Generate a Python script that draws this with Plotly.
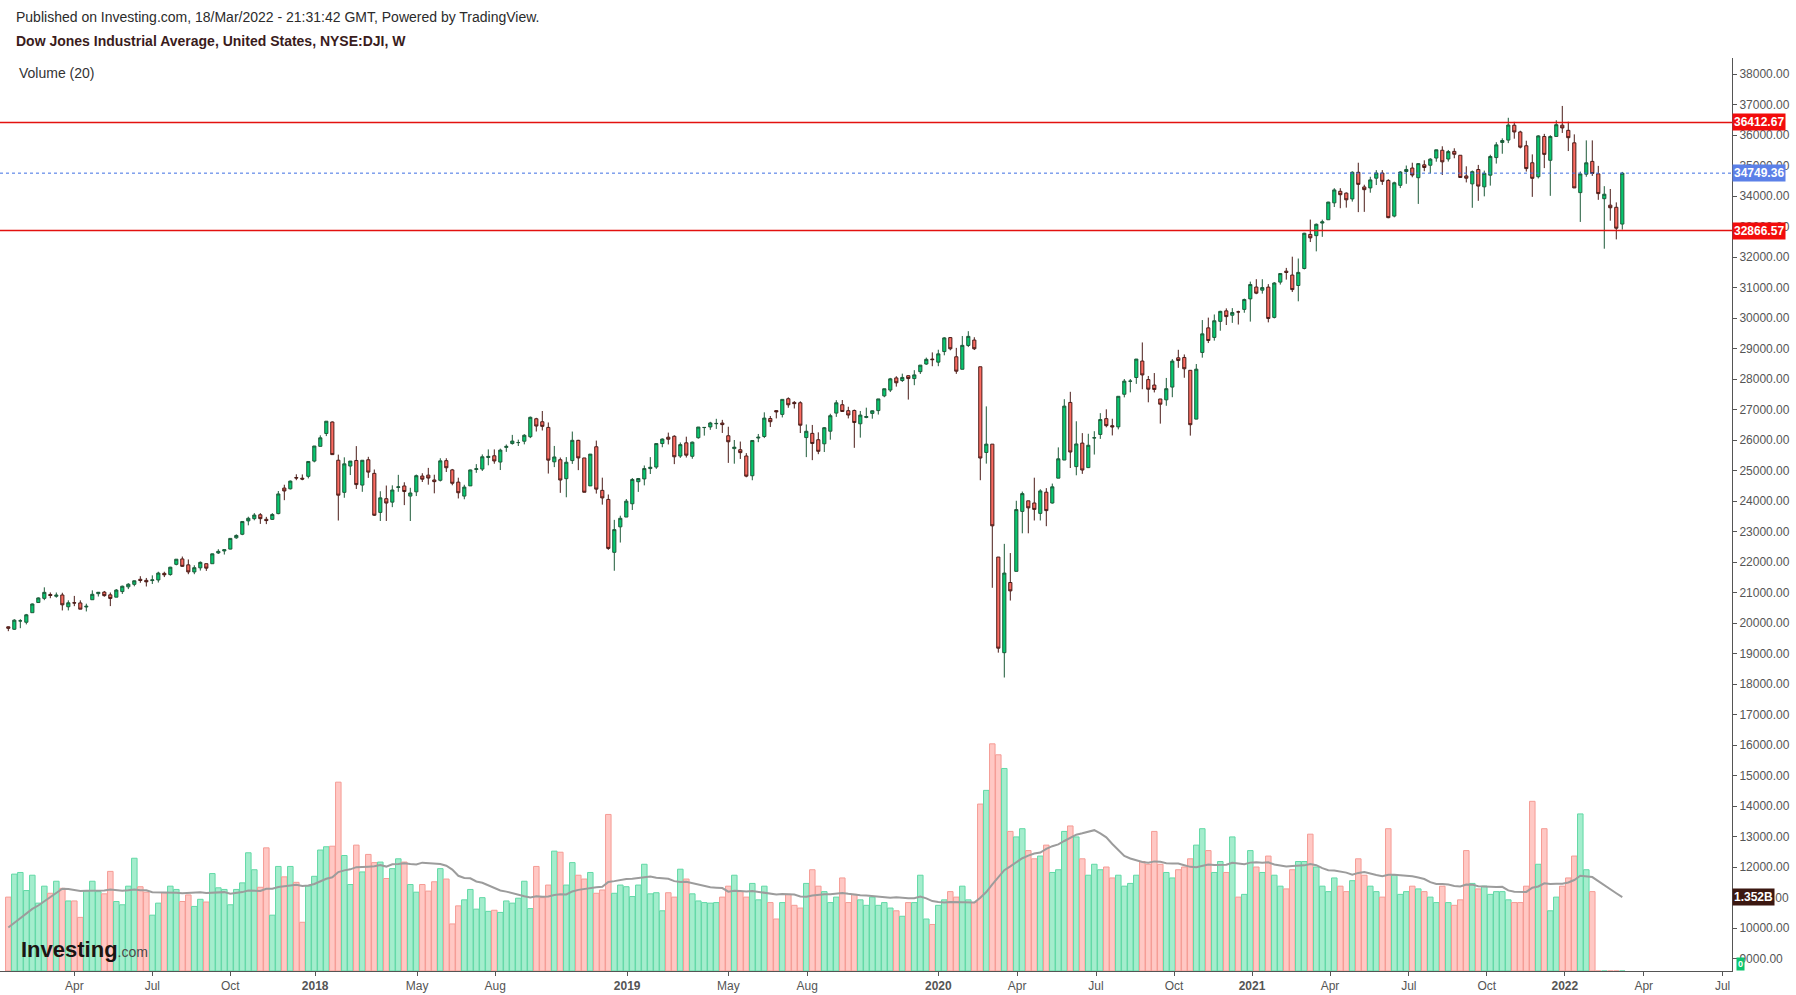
import plotly.graph_objects as go
import pandas as pd

# Weekly bars, Monday of each week
weeks = pd.date_range("2017-01-16", periods=270, freq="7D")

opens = [
    # 2017
    19875, 19794, 20067, 20025, 20338, 20671, 20808, 20935, 20876, 20919, 20532, 20665, 20658, 20525, 20763, 20962,
    21013, 20923, 20847, 21030, 21186, 21268, 21433, 21399, 21392, 21412, 21628, 21588, 21923, 22100, 21906, 21674,
    21809, 21945, 21944, 22296, 22362, 22423, 22793, 22909, 23348, 23421, 23549, 23400, 23398, 23587, 24424, 24400,
    24770, 24747,
    # 2018
    24809, 25309, 25792, 26214, 26591, 25337, 24283, 25146, 25329, 24522, 25353, 24906, 23626, 24076, 23963, 24446,
    24493, 24161, 24301, 24818, 24848, 24690, 24679, 25323, 25020, 24619, 24161, 24496, 25034, 25047, 25426, 25483,
    25277, 25758, 25884, 25916, 25960, 26108, 26697, 26599, 26413, 25285, 25354, 24732, 25325, 25989, 25412, 24496,
    25779, 24349, 24052, 22317, 23153,
    # 2019
    23474, 23910, 24632, 24724, 25064, 25113, 25884, 26092, 26122, 25474, 25907, 25465, 26075, 26407, 26428, 26534,
    26556, 26140, 25718, 25681, 25476, 24827, 26065, 26115, 26704, 26964, 26840, 27354, 27232, 27221, 26080, 26218,
    26009, 25876, 26289, 26882, 27157, 26961, 26968, 26532, 26740, 26872, 26964, 27447, 27638, 28036, 27950, 28109,
    28014, 28241, 28491, 28654,
    # 2020
    28553, 28900, 29358, 28729, 28319, 29100, 29277, 28402, 25591, 25864, 22162, 19027, 21328, 21693, 23659, 24006,
    23935, 23594, 24289, 23934, 24749, 25343, 27232, 25128, 25899, 25095, 26065, 26182, 26701, 26470, 26430, 27500,
    27926, 28049, 28589, 27981, 27802, 27345, 27317, 27735, 28695, 28706, 28285, 26685, 28870, 29677, 29364, 29890,
    30234, 30091, 30201, 30283,
    # 2021
    30627, 31016, 30913, 31013, 30020, 31177, 31536, 31408, 31066, 31623, 32741, 32700, 33113, 33222, 33776, 34155,
    34094, 33904, 34777, 34296, 34265, 34584, 34754, 34511, 33342, 34350, 34804, 34917, 34600, 35022, 35009, 35245,
    35500, 35213, 35463, 35336, 34658, 34398, 34869, 34301, 34683, 35260, 35755, 35833, 36321, 36100, 35648, 35090,
    34632, 35951, 35171, 35953,
    # 2022
    36322, 36153, 35744, 34111, 34716, 35135, 34727, 33912, 33700, 33630, 33080,
]
highs = [
    19887, 20125, 20125, 20298, 20639, 20841, 21169, 21002, 21000, 20992, 20743, 20888, 20743, 20633, 21071, 21017,
    21050, 21000, 21112, 21225, 21305, 21391, 21535, 21477, 21562, 21681, 21681, 21843, 22092, 22179, 22084, 21893,
    22019, 21945, 22275, 22419, 22405, 22780, 22906, 23329, 23485, 23602, 23602, 23480, 23602, 24328, 24534, 24672,
    24876, 24871,
    25299, 25804, 26153, 26617, 26609, 25520, 25432, 25311, 25800, 25336, 25449, 25033, 24320, 24507, 24514, 24858,
    24614, 24433, 24867, 24911, 25086, 24862, 25402, 25402, 25051, 24764, 24532, 25027, 25209, 25527, 25692, 25692,
    25717, 25853, 26168, 26012, 26192, 26769, 26728, 26951, 26575, 25805, 25425, 25439, 26277, 26006, 25412, 25538,
    25981, 24765, 24213, 23382, 23518,
    24065, 24754, 24755, 25165, 25439, 25883, 26052, 26242, 26156, 25919, 26109, 25949, 26425, 26424, 26596, 26695,
    26661, 26435, 26000, 25949, 25570, 25984, 26198, 26907, 26787, 26966, 27333, 27399, 27277, 27269, 26509, 26494,
    26252, 26426, 26860, 27306, 27311, 27090, 26998, 26952, 27060, 26970, 27347, 27681, 28036, 28091, 28175, 28116,
    28290, 28455, 28702, 28873,
    28960, 29374, 29374, 29021, 29409, 29568, 29370, 28402, 27102, 25864, 22162, 22595, 22293, 24008, 24309, 24006,
    24764, 24386, 24422, 24571, 25758, 27338, 27580, 26614, 26226, 26204, 26288, 26880, 27006, 26698, 27433, 28000,
    28000, 28654, 29199, 28100, 28195, 27345, 28035, 28652, 28958, 28805, 28285, 28491, 29933, 30013, 30116, 30238,
    30316, 30325, 30240, 30637,
    31193, 31272, 31272, 31111, 31178, 31470, 31643, 32010, 31950, 32793, 33227, 33098, 33225, 33810, 34256, 34256,
    34118, 34811, 35091, 34370, 34631, 34849, 34849, 34550, 34470, 34814, 35000, 35091, 35079, 35171, 35241, 35516,
    35631, 35510, 35565, 35336, 34974, 34836, 35020, 34833, 35353, 35765, 35892, 36565, 36432, 36140, 35813, 35365,
    35993, 36037, 35993, 36483,
    36953, 36436, 36021, 34800, 35824, 35824, 34988, 34323, 34230, 33791, 34790,
]
lows = [
    19732, 19771, 19830, 19954, 20338, 20671, 20749, 20813, 20830, 20412, 20413, 20552, 20453, 20379, 20763, 20868,
    20862, 20554, 20847, 20953, 21112, 21203, 21319, 21197, 21279, 21327, 21506, 21552, 21891, 21843, 21600, 21600,
    21719, 21709, 21944, 22262, 22244, 22416, 22761, 22880, 23202, 23367, 23250, 23242, 23377, 23565, 24027, 24379,
    24682, 24681,
    24741, 25268, 25792, 26128, 25516, 23360, 24106, 24852, 24395, 24301, 24758, 23509, 23344, 23345, 23798, 24301,
    23865, 23344, 24162, 24623, 24536, 24252, 24640, 24951, 24516, 24084, 24057, 24496, 24924, 24984, 25170, 25222,
    25016, 25611, 25848, 25803, 25857, 26062, 26279, 26312, 24900, 25111, 24268, 24122, 25216, 25011, 24285, 24496,
    24243, 23881, 22397, 21713, 22638,
    23474, 23706, 24298, 24513, 24885, 25053, 25762, 25855, 25209, 25413, 25425, 25385, 26043, 26143, 26333, 26363,
    26231, 25250, 25223, 25379, 24777, 24680, 25929, 26063, 26427, 26708, 26740, 27057, 27033, 26229, 25439, 25339,
    25535, 25606, 26010, 26758, 26973, 26708, 25743, 26078, 26714, 26699, 26835, 27403, 27573, 27750, 27903, 27325,
    27797, 28165, 28465, 28419,
    28420, 28777, 28941, 28169, 28319, 29047, 28950, 24681, 25226, 21154, 19028, 18213, 20736, 21693, 22941, 22941,
    23361, 23361, 23174, 23915, 24749, 25342, 25082, 24843, 24890, 25080, 25523, 26037, 26416, 26150, 26348, 27398,
    27563, 27841, 27665, 27236, 27560, 26537, 27122, 27403, 28366, 28041, 26143, 26681, 28700, 29179, 29258, 29583,
    29770, 29841, 29786, 30172,
    29882, 30781, 30800, 29857, 29986, 31096, 31259, 30853, 30547, 31593, 32491, 32185, 32661, 33222, 33639, 33600,
    33619, 33816, 33471, 33480, 34108, 34360, 34365, 33271, 33301, 34260, 34400, 34615, 33741, 34812, 34745, 35124,
    34690, 35130, 35237, 34600, 34446, 33613, 33842, 33989, 34340, 35063, 35386, 35734, 35879, 35561, 34801, 33972,
    34576, 34915, 34006, 35953,
    36068, 35474, 34266, 33150, 34631, 34659, 33875, 32272, 33190, 32578, 32900,
]
closes = [
    19827, 20093, 20071, 20269, 20624, 20822, 21005, 20902, 20914, 20596, 20663, 20656, 20453, 20548, 20941, 21007,
    20897, 20805, 21080, 21206, 21272, 21384, 21395, 21350, 21414, 21638, 21580, 21830, 22092, 21858, 21675, 21814,
    21988, 21798, 22268, 22350, 22405, 22774, 22871, 23329, 23434, 23539, 23422, 23358, 23558, 24232, 24329, 24652,
    24754, 24719,
    25296, 25803, 26072, 26617, 25521, 24191, 25219, 25310, 24538, 25336, 24947, 23533, 24103, 23933, 24361, 24463,
    24311, 24263, 24831, 24715, 24753, 24635, 25317, 25090, 24581, 24271, 24456, 25019, 25058, 25451, 25463, 25313,
    25669, 25790, 25965, 25917, 26155, 26744, 26458, 26447, 25340, 25444, 24688, 25271, 25989, 25413, 24286, 25538,
    24389, 24101, 22445, 23062, 23433,
    23996, 24706, 24737, 25064, 25106, 25883, 26031, 26026, 25450, 25849, 25502, 25929, 26425, 26412, 26559, 26543,
    26505, 25942, 25764, 25586, 24815, 25984, 26090, 26719, 26600, 26922, 27332, 27154, 27192, 26485, 26287, 25886,
    25629, 26403, 26797, 27220, 26935, 26820, 26573, 26817, 26770, 26958, 27347, 27681, 28005, 27876, 28051, 28015,
    28135, 28455, 28645, 28635,
    28824, 29348, 28990, 28256, 29103, 29398, 28992, 25409, 25865, 23186, 19174, 21637, 21053, 23719, 24242, 23775,
    23724, 24331, 23685, 24465, 25383, 27111, 25606, 25871, 25016, 25827, 26075, 26672, 26470, 26428, 27433, 27931,
    27930, 28654, 28133, 27666, 27657, 27174, 27683, 28587, 28606, 28336, 26502, 28323, 29480, 29263, 29910, 30218,
    30046, 30179, 30200, 30606,
    31098, 30814, 30997, 29983, 31148, 31458, 31494, 30932, 31496, 32779, 32628, 33073, 33153, 33801, 34200, 34043,
    33875, 34778, 34382, 34208, 34529, 34756, 34480, 33290, 34434, 34786, 34870, 34687, 35062, 34935, 35209, 35515,
    35120, 35456, 35369, 34608, 34584, 34798, 34326, 34746, 35295, 35677, 35820, 36328, 36100, 35602, 34899, 34580,
    35971, 35365, 35951, 36338,
    36232, 35912, 34265, 34725, 35089, 34738, 34079, 34059, 33615, 32944, 34749.36,
]

# weekly volume, billions (no data for the last five weeks)
volume = [
    1.35, 1.77, 1.80, 1.47, 1.75, 1.24, 1.55, 1.42, 1.64, 1.51, 1.28, 1.28, 0.98, 1.46, 1.64, 1.45, 1.41, 1.82, 1.27, 1.21,
    1.55, 2.06, 1.54, 1.44, 1.02, 1.24, 1.43, 1.55, 1.49, 1.27, 1.39, 1.18, 1.31, 1.26, 1.78, 1.52, 1.49, 1.21, 1.49, 1.61,
    2.16, 1.85, 1.53, 2.25, 1.02, 1.91, 1.72, 1.91, 1.62, 0.89, 1.55, 1.73, 2.21, 2.27, 2.28, 3.45, 2.11, 1.58, 2.30, 1.81,
    2.13, 1.98, 1.99, 1.69, 1.87, 2.05, 1.99, 1.58, 1.44, 1.58, 1.46, 1.63, 1.87, 1.68, 0.86, 1.19, 1.30, 1.49, 1.13, 1.34,
    1.09, 1.11, 1.07, 1.28, 1.24, 1.33, 1.64, 1.14, 1.91, 1.34, 1.57, 2.19, 2.17, 1.57, 1.98, 1.75, 1.68, 1.80, 1.42, 1.48,
    2.86, 1.42, 1.57, 1.54, 1.36, 1.57, 1.95, 1.41, 1.43, 1.10, 1.43, 1.35, 1.86, 1.68, 1.41, 1.28, 1.25, 1.24, 1.25, 1.35,
    1.55, 1.75, 1.45, 1.35, 1.60, 1.30, 1.55, 1.25, 0.95, 1.25, 1.40, 1.20, 1.15, 1.60, 1.85, 1.55, 1.45, 1.25, 1.35, 1.70,
    1.25, 1.40, 1.30, 1.20, 1.35, 1.20, 1.25, 1.15, 1.10, 1.00, 1.25, 1.25, 1.75, 0.95, 0.85, 1.20, 1.30, 1.45, 1.35, 1.55,
    1.30, 1.25, 3.05, 3.30, 4.15, 3.95, 3.70, 2.55, 2.45, 2.60, 2.20, 2.05, 2.10, 2.30, 1.80, 1.85, 2.55, 2.65, 2.45, 2.05,
    1.75, 1.95, 1.85, 1.90, 1.70, 1.75, 1.55, 1.60, 1.75, 2.00, 1.95, 2.55, 1.95, 1.80, 1.70, 1.85, 1.90, 2.05, 2.30, 2.60,
    2.20, 1.80, 2.00, 1.80, 2.45, 1.35, 1.40, 2.20, 1.90, 1.80, 2.10, 1.75, 1.55, 1.50, 1.85, 2.00, 2.00, 2.50, 1.90, 1.55,
    1.45, 1.70, 1.55, 1.45, 1.65, 2.05, 1.75, 1.55, 1.45, 1.35, 2.60, 1.75, 1.40, 1.45, 1.55, 1.50, 1.45, 1.35, 1.25, 1.55,
    1.25, 1.20, 1.30, 2.20, 1.60, 1.50, 1.55, 1.40, 1.45, 1.45, 1.30, 1.25, 1.25, 1.55, 3.10, 1.95, 2.60, 1.10, 1.35, 1.55,
    1.70, 2.10, 2.87, 1.85, 1.45, 0, 0, 0, 0, 0,
]
# weeks before the visible window, only used by the 20-week average
volume_before = [1.40, 1.50, 1.45, 1.35, 1.55, 1.50, 1.40, 1.45, 1.50, 1.45]

x_tick_dates = ["2017-04-03", "2017-07-03", "2017-10-02", "2018-01-09", "2018-05-08", "2018-08-07",
                "2019-01-08", "2019-05-06", "2019-08-06", "2020-01-06", "2020-04-07", "2020-07-08",
                "2020-10-07", "2021-01-06", "2021-04-07", "2021-07-08", "2021-10-07", "2022-01-06",
                "2022-04-08", "2022-07-09"]
x_tick_labels = ["Apr", "Jul", "Oct", "<b>2018</b>", "May", "Aug", "<b>2019</b>", "May", "Aug",
                 "<b>2020</b>", "Apr", "Jul", "Oct", "<b>2021</b>", "Apr", "Jul", "Oct", "<b>2022</b>",
                 "Apr", "Jul"]

resistance = 36412.67
support = 32866.57
last_price = 34749.36
volume_ma_value = 1.352
volume_ma_label = "1.352B"

df = pd.DataFrame({"open": opens, "high": highs, "low": lows, "close": closes, "volume": volume}, index=weeks)

# Volume MA(20), padded with earlier weeks
vol_all = pd.Series(volume_before + volume)
vol_ma = (vol_all.rolling(20, min_periods=1).sum() / 20).iloc[len(volume_before):].values

up = df["close"] >= df["open"]
vol_fill = ["#A4EDCD" if u else "#FFC8C4" for u in up]
vol_edge = ["#62D9A6" if u else "#F59C95" for u in up]

fig = go.Figure()

# Volume bars (bottom layer)
fig.add_trace(go.Bar(
    x=df.index, y=df["volume"],
    marker=dict(color=vol_fill, line=dict(color=vol_edge, width=1)),
    yaxis="y", showlegend=False, hoverinfo="skip"
))
fig.add_trace(go.Scatter(
    x=df.index, y=vol_ma, mode="lines",
    line=dict(color="#9C9C9C", width=2),
    yaxis="y", showlegend=False, hoverinfo="skip"
))

# Candles
fig.add_trace(go.Candlestick(
    x=df.index, open=df["open"], high=df["high"], low=df["low"], close=df["close"],
    increasing=dict(line=dict(color="#1D5A39", width=1), fillcolor="#06C870"),
    decreasing=dict(line=dict(color="#4A1C18", width=1), fillcolor="#FC6B61"),
    yaxis="y2", showlegend=False
))

for lvl in [resistance, support]:
    fig.add_shape(type="line", xref="paper", x0=0, x1=1, yref="y2", y0=lvl, y1=lvl,
                  line=dict(color="#E3110F", width=1.5))
fig.add_shape(type="line", xref="paper", x0=0, x1=1, yref="y2", y0=last_price, y1=last_price,
              line=dict(color="#3E6FE3", width=1, dash="dot"))

label_font = dict(family="Arial", size=12, color="white")
for lvl, col in [(resistance, "#F20C0C"), (support, "#F20C0C"), (last_price, "#5B80E8")]:
    fig.add_annotation(x=1, xref="paper", y=lvl, yref="y2", text=f"<b>{lvl:.2f}</b>",
                       showarrow=False, xanchor="left", yanchor="middle",
                       bgcolor=col, font=label_font, borderpad=1)
fig.add_annotation(x=1, xref="paper", y=volume_ma_value, yref="y", text=f"<b>{volume_ma_label}</b>",
                   showarrow=False, xanchor="left", yanchor="middle",
                   bgcolor="#3B1710", font=label_font, borderpad=1)
fig.add_annotation(x=1, xref="paper", xshift=4, y=0, yref="y", text="<b>0</b>",
                   showarrow=False, xanchor="left", yanchor="bottom",
                   bgcolor="#0BC56F", font=dict(family="Arial", size=9, color="white"), borderpad=1)

# Header texts
fig.add_annotation(x=14 / 1732, y=(971 - 17) / 913, xref="paper", yref="paper",
                   text="Published on Investing.com, 18/Mar/2022 - 21:31:42 GMT, Powered by TradingView.",
                   showarrow=False, xanchor="left", yanchor="middle",
                   font=dict(family="Arial", size=14, color="#2b2b2b"))
fig.add_annotation(x=14 / 1732, y=(971 - 41) / 913, xref="paper", yref="paper",
                   text="<b>Dow Jones Industrial Average, United States, NYSE:DJI, W</b>",
                   showarrow=False, xanchor="left", yanchor="middle",
                   font=dict(family="Arial", size=14, color="#3a1c1c"))
fig.add_annotation(x=17 / 1732, y=(971 - 73) / 913, xref="paper", yref="paper",
                   text="Volume (20)", showarrow=False, xanchor="left", yanchor="middle",
                   font=dict(family="Arial", size=14, color="#333333"))
fig.add_annotation(x=19 / 1732, y=(971 - 949) / 913, xref="paper", yref="paper",
                   text="<b>Investing</b><span style='font-size:14px;color:#4a4a4a'>.com</span>",
                   showarrow=False, xanchor="left", yanchor="middle",
                   font=dict(family="Arial", size=22, color="#1c1412"))

fig.update_layout(
    width=1796, height=995,
    margin=dict(l=0, r=64, t=58, b=24),
    paper_bgcolor="white", plot_bgcolor="white",
    bargap=0.08, boxgap=0.25,
    showlegend=False,
    xaxis=dict(
        type="date", range=["2017-01-06 07:00", "2022-07-20"],
        rangeslider=dict(visible=False),
        showgrid=False, zeroline=False,
        showline=True, linecolor="#555555", linewidth=1,
        ticks="outside", ticklen=4, tickcolor="#555555",
        tickvals=x_tick_dates, ticktext=x_tick_labels,
        tickfont=dict(family="Arial", size=12, color="#555555"),
    ),
    yaxis=dict(range=[0, 16.68], visible=False, fixedrange=True),
    yaxis2=dict(
        overlaying="y", side="right", range=[8590, 38525],
        dtick=1000, tickformat=".2f",
        showgrid=False, zeroline=False,
        showline=True, linecolor="#555555", linewidth=1,
        ticks="outside", ticklen=4, tickcolor="#555555",
        tickfont=dict(family="Arial", size=12, color="#555555"),
    ),
)

# page margin off so the figure sits at the window's corner
fig.write_html("out.html", config={"displayModeBar": False},
               post_script="document.body.style.margin='0px';")
